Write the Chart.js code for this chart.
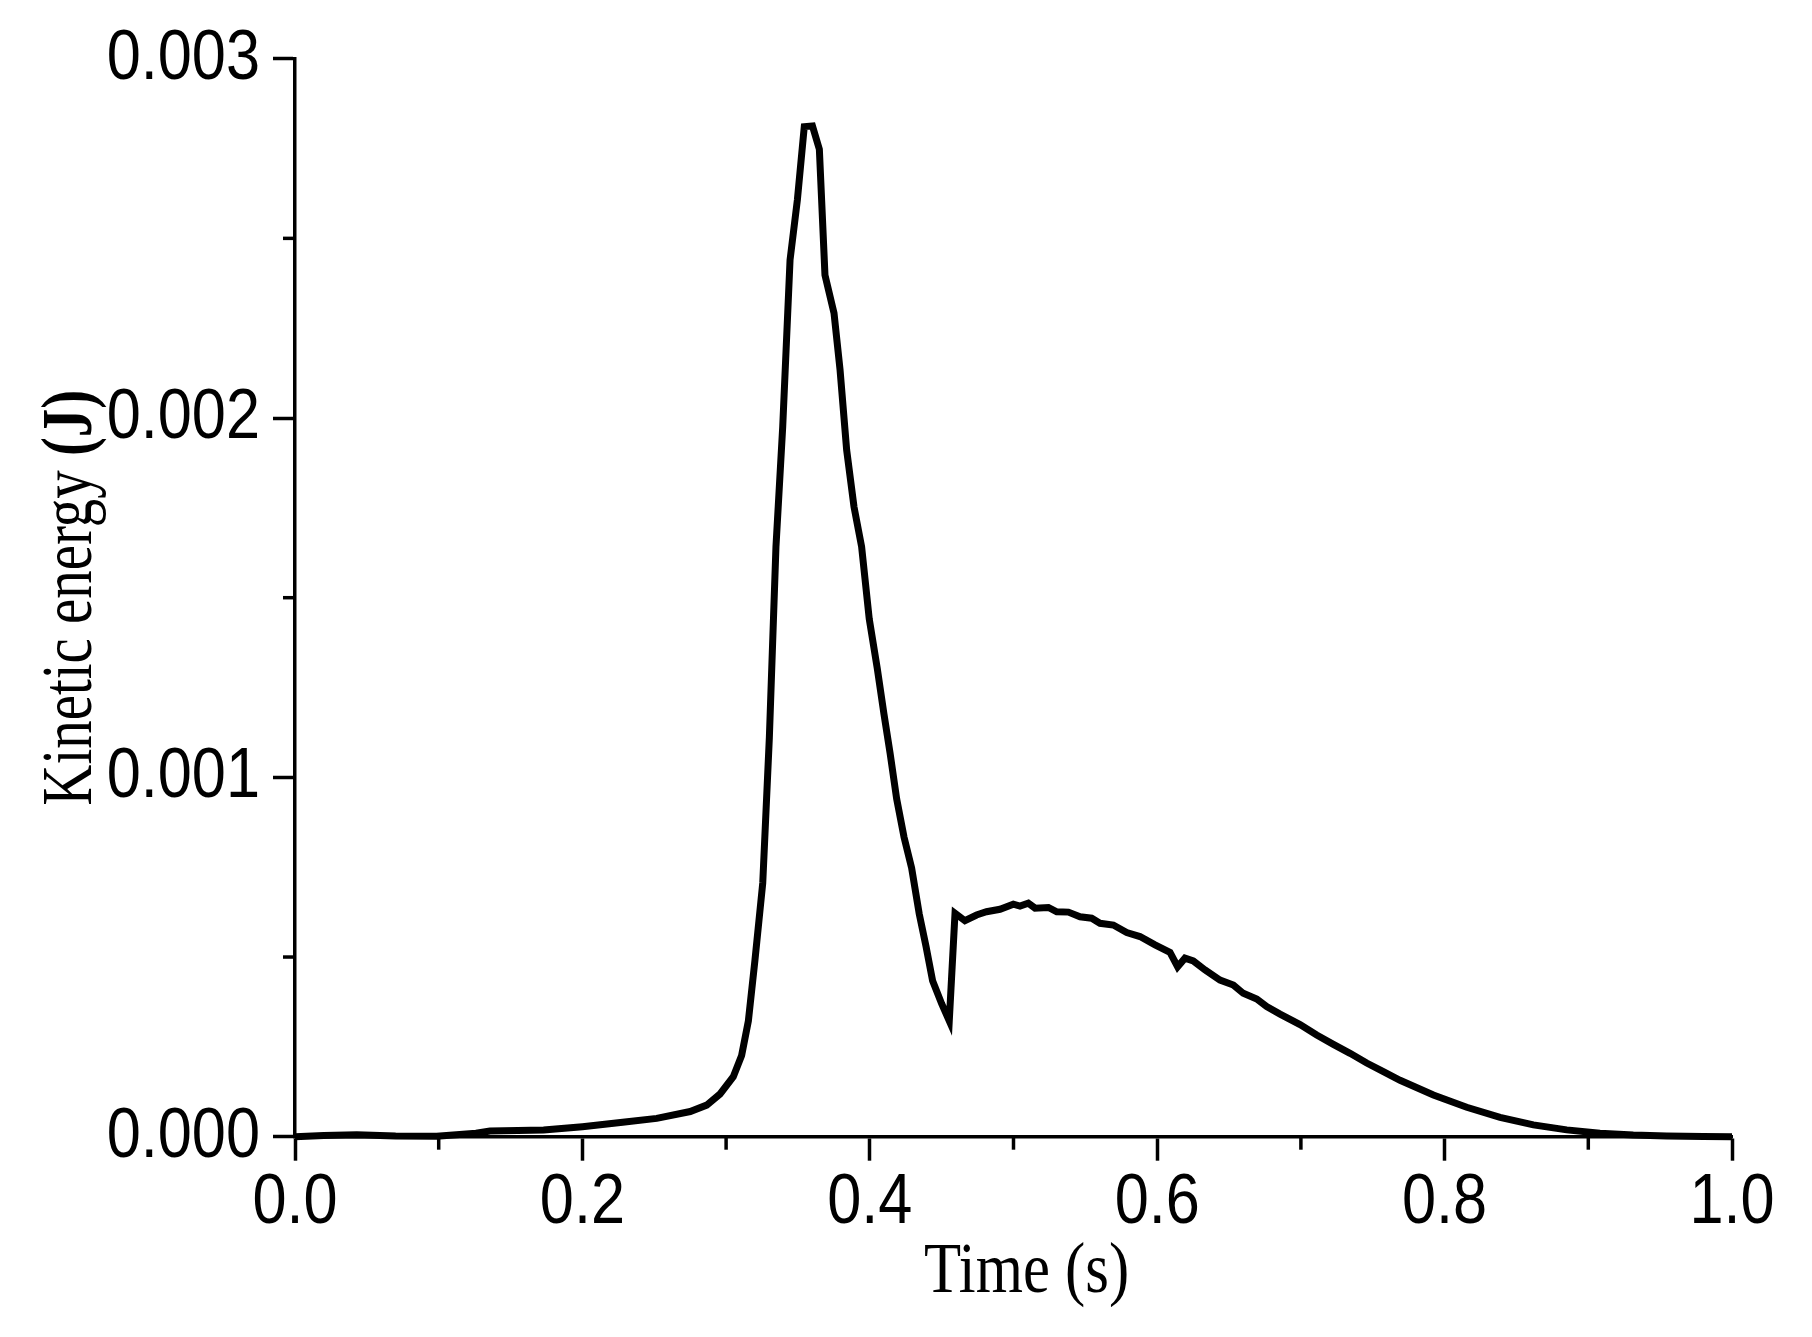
<!DOCTYPE html>
<html>
<head>
<meta charset="utf-8">
<style>
  html, body { margin: 0; padding: 0; background: #fff; }
  canvas { display: block; }
</style>
<script src="https://cdn.jsdelivr.net/npm/chart.js@4.4.1/dist/chart.umd.min.js"></script>
</head>
<body>
<canvas id="c" width="1812" height="1337"></canvas>
<script>
// ---- data ----
const timeS = [0, 0.02, 0.043, 0.07, 0.0986, 0.126, 0.1357, 0.155, 0.173, 0.2, 0.228, 0.2517, 0.275, 0.2865,
  0.2958, 0.305, 0.3108, 0.3155, 0.3201, 0.3255, 0.3301, 0.3347, 0.3394, 0.3445, 0.3496, 0.3544, 0.3601,
  0.3649, 0.3688, 0.3751, 0.3793, 0.3839, 0.389, 0.3943, 0.3996, 0.4052, 0.4099, 0.4141, 0.4187, 0.4238,
  0.4291, 0.4344, 0.4391, 0.4437, 0.45, 0.4553, 0.4593, 0.4662, 0.4743, 0.4812, 0.4906, 0.4999, 0.5045,
  0.5103, 0.515, 0.5243, 0.5301, 0.5382, 0.5463, 0.5544, 0.5602, 0.5695, 0.5788, 0.588, 0.5985, 0.6089,
  0.6142, 0.6193, 0.6251, 0.6333, 0.6437, 0.653, 0.6599, 0.6693, 0.6762, 0.6855, 0.6994, 0.711, 0.7226,
  0.7342, 0.7458, 0.7574, 0.769, 0.7922, 0.8154, 0.8386, 0.8618, 0.885, 0.9081, 0.9313, 0.9545, 0.98, 1.0];
const kineticEnergyJ = [0, 0.000003, 0.0000055, 0.000002, 0.000001, 0.0000094, 0.000016, 0.000017, 0.0000187,
  0.000028, 0.00004, 0.000051, 0.00007, 0.000088,
  0.000119, 0.000167, 0.000226, 0.000322, 0.000492, 0.000706, 0.001111, 0.001642, 0.001976, 0.00244, 0.002607,
  0.002811, 0.002813, 0.002748, 0.002398, 0.002292, 0.002134, 0.001911, 0.001753, 0.001642, 0.001441,
  0.001303, 0.001175, 0.001068, 0.00094, 0.000834, 0.000748, 0.00062, 0.00053, 0.000434, 0.00037, 0.000322,
  0.000622, 0.000601, 0.000617, 0.000626, 0.000633, 0.000647, 0.000642, 0.00065, 0.000636, 0.000638,
  0.000626, 0.000625, 0.000612, 0.000608, 0.000594, 0.000589, 0.000568, 0.000557, 0.000534, 0.000513,
  0.000473, 0.000497, 0.000489, 0.000464, 0.000436, 0.000422, 0.000399, 0.000383, 0.000362, 0.000341,
  0.000312, 0.000283, 0.000257, 0.000232, 0.000205, 0.000181, 0.000157, 0.000116, 0.000082, 0.000054,
  0.000033, 0.000019, 0.0000095, 0.0000047, 0.000002, 0.0000005, 0];
const xMajorTicks = [0, 0.2, 0.4, 0.6, 0.8, 1.0];
const xMinorTicks = [0.1, 0.3, 0.5, 0.7, 0.9];
const yMajorTicks = [0, 0.001, 0.002, 0.003];
const yMinorTicks = [0.0005, 0.0015, 0.0025];
const xTickLabels = ['0.0', '0.2', '0.4', '0.6', '0.8', '1.0'];
const yTickLabels = ['0.000', '0.001', '0.002', '0.003'];
const xTitle = 'Time (s)';
const yTitleMain = 'Kinetic energy ';
const yTitleUnit = '(J)';

const points = timeS.map((t, i) => ({ x: t, y: kineticEnergyJ[i] }));

const SANS = '"Liberation Sans", Arial, Helvetica, sans-serif';
const SERIF = '"Liberation Serif", "Times New Roman", serif';

const extras = {
  id: 'extras',
  afterDraw(chart) {
    const { ctx, chartArea: a, scales } = chart;
    ctx.save();
    ctx.strokeStyle = '#000';
    ctx.lineWidth = 3.5;
    ctx.lineCap = 'butt';
    // minor ticks
    yMinorTicks.forEach(v => {
      const y = scales.y.getPixelForValue(v);
      ctx.beginPath(); ctx.moveTo(a.left - 12, y); ctx.lineTo(a.left, y); ctx.stroke();
    });
    xMinorTicks.forEach(v => {
      const x = scales.x.getPixelForValue(v);
      ctx.beginPath(); ctx.moveTo(x, a.bottom); ctx.lineTo(x, a.bottom + 13); ctx.stroke();
    });

    ctx.fillStyle = '#000';
    // tick labels (condensed sans)
    ctx.font = '70px ' + SANS;
    ctx.textBaseline = 'alphabetic';
    scales.y.ticks.forEach((t, i) => {
      const y = scales.y.getPixelForValue(t.value);
      ctx.save();
      ctx.translate(a.left - 35, y + 20);
      ctx.scale(0.875, 1);
      ctx.textAlign = 'right';
      ctx.fillText(yTickLabels[i], 0, 0);
      ctx.restore();
    });
    scales.x.ticks.forEach((t, i) => {
      const x = scales.x.getPixelForValue(t.value);
      ctx.save();
      ctx.translate(x, a.bottom + 86);
      ctx.scale(0.875, 1);
      ctx.textAlign = 'center';
      ctx.fillText(xTickLabels[i], 0, 0);
      ctx.restore();
    });

    // axis titles (condensed serif)
    ctx.save();
    ctx.font = '71px ' + SERIF;
    ctx.textAlign = 'center';
    ctx.translate((a.left + a.right) / 2 + 13, a.bottom + 155);
    ctx.scale(0.855, 1);
    ctx.fillText(xTitle, 0, 0);
    ctx.restore();

    ctx.save();
    ctx.translate(91, (a.top + a.bottom) / 2);
    ctx.rotate(-Math.PI / 2);
    ctx.scale(0.79, 1);
    ctx.font = '72px ' + SERIF;
    const w1 = ctx.measureText(yTitleMain).width;
    ctx.font = 'bold 72px ' + SERIF;
    const w2 = ctx.measureText(yTitleUnit).width;
    const start = -(w1 + w2) / 2;
    ctx.textAlign = 'left';
    ctx.font = '72px ' + SERIF;
    ctx.fillText(yTitleMain, start, 0);
    ctx.font = 'bold 72px ' + SERIF;
    ctx.fillText(yTitleUnit, start + w1, 0);
    ctx.restore();
    ctx.restore();
  }
};

new Chart(document.getElementById('c'), {
  type: 'line',
  data: {
    datasets: [{
      data: points,
      borderColor: '#000',
      borderWidth: 7,
      pointRadius: 0,
      tension: 0,
      fill: false,
      clip: false,
      borderJoinStyle: 'miter'
    }]
  },
  options: {
    responsive: false,
    animation: false,
    devicePixelRatio: 1,
    layout: { padding: { top: 58.7, right: 80, left: 0, bottom: 0 } },
    plugins: { legend: { display: false }, tooltip: { enabled: false }, title: { display: false } },
    scales: {
      x: {
        type: 'linear',
        min: 0, max: 1,
        afterBuildTicks: s => { s.ticks = xMajorTicks.map(v => ({ value: v })); },
        afterFit: s => { s.height = 200.3; },
        grid: { display: true, drawOnChartArea: false, drawTicks: true, tickLength: 24, tickWidth: 3.5, tickColor: '#000' },
        border: { display: true, color: '#000', width: 3.5 },
        ticks: { display: false, autoSkip: false }
      },
      y: {
        type: 'linear',
        min: 0, max: 0.003,
        afterBuildTicks: s => { s.ticks = yMajorTicks.map(v => ({ value: v })); },
        afterFit: s => { s.width = 295; },
        grid: { display: true, drawOnChartArea: false, drawTicks: true, tickLength: 22, tickWidth: 3.5, tickColor: '#000' },
        border: { display: true, color: '#000', width: 3.5 },
        ticks: { display: false, autoSkip: false }
      }
    }
  },
  plugins: [extras]
});
</script>
</body>
</html>
